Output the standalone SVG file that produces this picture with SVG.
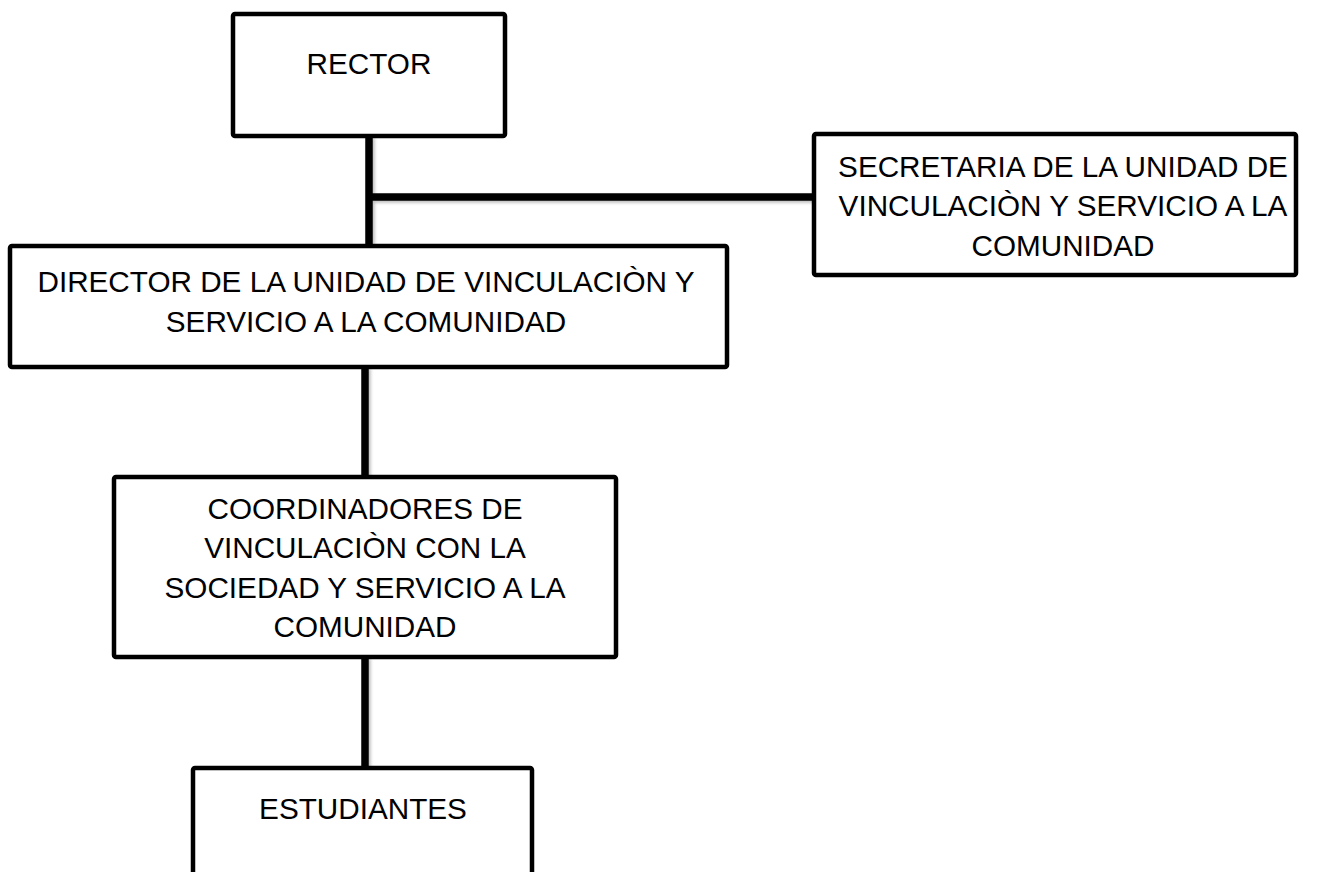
<svg xmlns="http://www.w3.org/2000/svg" width="1319" height="872" viewBox="0 0 1319 872">
  <style>
    .box { fill: #ffffff; stroke: #000000; stroke-width: 4.5; }
    .lbl { font-family: "Liberation Sans", Arial, sans-serif; font-size: 29.7px; fill: #000000; text-anchor: middle; }
    .conn { stroke: #000000; stroke-width: 7.5; fill: none; stroke-linecap: butt; }
  </style>
  <defs>
    <filter id="sh" x="-20%" y="-20%" width="140%" height="140%">
      <feDropShadow dx="2" dy="2" stdDeviation="1.5" flood-color="#000000" flood-opacity="0.25"/>
    </filter>
  </defs>
  <rect width="1319" height="872" fill="#ffffff"/>

  <g id="connectors" filter="url(#sh)">
    <line class="conn" x1="369" y1="136" x2="369" y2="246"/>
    <line class="conn" x1="369" y1="197" x2="813" y2="197"/>
    <line class="conn" x1="365" y1="367" x2="365" y2="477"/>
    <line class="conn" x1="365" y1="657" x2="365" y2="768"/>
  </g>

  <g id="rector">
    <rect class="box" x="233" y="14" width="272" height="122" rx="2"/>
    <text class="lbl" x="369" y="74">RECTOR</text>
  </g>

  <g id="secretaria">
    <rect class="box" x="814" y="134" width="482" height="141" rx="2"/>
    <text class="lbl" x="1063" y="177">SECRETARIA DE LA UNIDAD DE</text>
    <text class="lbl" x="1063" y="216">VINCULACIÒN Y SERVICIO A LA</text>
    <text class="lbl" x="1063" y="256">COMUNIDAD</text>
  </g>

  <g id="director">
    <rect class="box" x="10" y="246" width="717" height="121" rx="2"/>
    <text class="lbl" x="366" y="292">DIRECTOR DE LA UNIDAD DE VINCULACIÒN Y</text>
    <text class="lbl" x="366" y="332">SERVICIO A LA COMUNIDAD</text>
  </g>

  <g id="coordinadores">
    <rect class="box" x="114" y="477" width="502" height="180" rx="2"/>
    <text class="lbl" x="365" y="519">COORDINADORES DE</text>
    <text class="lbl" x="365" y="558">VINCULACIÒN CON LA</text>
    <text class="lbl" x="365" y="598">SOCIEDAD Y SERVICIO A LA</text>
    <text class="lbl" x="365" y="637">COMUNIDAD</text>
  </g>

  <g id="estudiantes">
    <rect class="box" x="193" y="768" width="339" height="130" rx="2"/>
    <text class="lbl" x="363" y="819">ESTUDIANTES</text>
  </g>
</svg>
